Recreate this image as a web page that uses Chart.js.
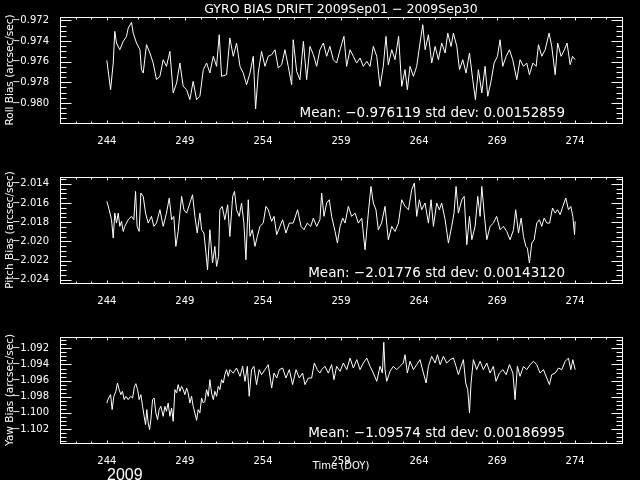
<!DOCTYPE html>
<html>
<head>
<meta charset="utf-8">
<script src="https://cdn.jsdelivr.net/npm/chart.js@4.4.0/dist/chart.umd.min.js"></script>
<style>
  html, body { margin: 0; padding: 0; background: #000; }
  #wrap { position: relative; width: 640px; height: 480px; background: #000; overflow: hidden; }
  canvas { position: absolute; left: 0; }
</style>
</head>
<body>
<div id="wrap">
  <canvas id="roll" width="640" height="160" style="top:0"></canvas>
  <canvas id="pitch" width="640" height="160" style="top:160px"></canvas>
  <canvas id="yaw" width="640" height="160" style="top:320px"></canvas>
</div>
<script>
'use strict';

const chartTitle = 'GYRO BIAS DRIFT 2009Sep01 \u2212 2009Sep30';
const yearLabel = '2009';
const xTitle = 'Time (DOY)';
const xTicks = [244, 249, 254, 259, 264, 269, 274];

const rollTicks = [-0.980, -0.978, -0.976, -0.974, -0.972];
const pitchTicks = [-2.024, -2.022, -2.020, -2.018, -2.016, -2.014];
const yawTicks = [-1.102, -1.100, -1.098, -1.096, -1.094, -1.092];

const rollMean = 'Mean: \u22120.976119 std dev: 0.00152859';
const pitchMean = 'Mean: \u22122.01776 std dev: 0.00143120';
const yawMean = 'Mean: \u22121.09574 std dev: 0.00186995';

const rollDays = [
  244.00, 244.24, 244.41, 244.51, 244.62, 244.83, 245.05, 245.26, 245.37, 245.58,
  245.69, 245.90, 246.12, 246.22, 246.33, 246.54, 246.76, 246.97, 247.18, 247.40,
  247.61, 247.82, 248.04, 248.25, 248.47, 248.68, 248.89, 249.11, 249.32, 249.53,
  249.75, 249.96, 250.18, 250.39, 250.60, 250.82, 251.03, 251.20, 251.35, 251.67,
  251.88, 252.10, 252.31, 252.53, 252.74, 252.95, 253.17, 253.38, 253.53, 253.70,
  253.91, 254.13, 254.34, 254.56, 254.77, 254.98, 255.20, 255.41, 255.62, 255.84,
  255.94, 256.16, 256.37, 256.59, 256.80, 257.01, 257.23, 257.44, 257.65,
  257.87, 258.08, 258.29, 258.51, 258.72, 258.94, 259.19, 259.36, 259.58, 259.79,
  260.00, 260.22, 260.43, 260.65, 260.86, 261.07, 261.29, 261.50, 261.71, 261.88,
  262.03, 262.25, 262.46, 262.69, 262.89, 263.10, 263.25, 263.42, 263.64, 263.85,
  264.06, 264.24, 264.39, 264.60, 264.81, 265.03, 265.24, 265.45, 265.67, 265.84,
  266.05, 266.20, 266.42, 266.59, 266.80, 267.01, 267.23, 267.44, 267.61, 267.80,
  268.02, 268.23, 268.40, 268.59, 268.81, 269.02, 269.19, 269.36, 269.58, 269.79,
  270.00, 270.26, 270.47, 270.69, 270.90, 271.07, 271.29, 271.50, 271.65, 271.86,
  272.08, 272.33, 272.50, 272.72, 272.88, 273.10, 273.31, 273.48, 273.68, 273.83,
  274.00
];
const rollBias = [
  -0.97587, -0.97871, -0.97613, -0.97306, -0.97419, -0.97484, -0.97403, -0.97355, -0.97274, -0.97219,
  -0.97323, -0.97419, -0.97484, -0.97677, -0.97710, -0.97435, -0.97516, -0.97613, -0.97774, -0.97742,
  -0.97581, -0.97645, -0.97500, -0.97903, -0.97806, -0.97613, -0.97839, -0.97871, -0.97968, -0.97790,
  -0.97968, -0.97935, -0.97677, -0.97613, -0.97710, -0.97548, -0.97645, -0.97339, -0.97742, -0.97726,
  -0.97371, -0.97548, -0.97419, -0.97645, -0.97710, -0.97823, -0.97710, -0.97548, -0.98058, -0.97710,
  -0.97500, -0.97645, -0.97548, -0.97532, -0.97484, -0.97661, -0.97629, -0.97484, -0.97645, -0.97823,
  -0.97387, -0.97694, -0.97774, -0.97403, -0.97774, -0.97452, -0.97532, -0.97645, -0.97484,
  -0.97419, -0.97548, -0.97452, -0.97581, -0.97613, -0.97484, -0.97355, -0.97645, -0.97484, -0.97548,
  -0.97613, -0.97565, -0.97645, -0.97597, -0.97645, -0.97452, -0.97548, -0.97839, -0.97645, -0.97355,
  -0.97629, -0.97484, -0.97581, -0.97355, -0.97839, -0.97677, -0.97871, -0.97645, -0.97742, -0.97645,
  -0.97419, -0.97242, -0.97484, -0.97339, -0.97613, -0.97452, -0.97581, -0.97419, -0.97516, -0.97323,
  -0.97452, -0.97323, -0.97452, -0.97677, -0.97581, -0.97710, -0.97516, -0.97774, -0.97968, -0.97677,
  -0.97903, -0.97645, -0.97935, -0.97806, -0.97613, -0.97548, -0.97387, -0.97645, -0.97548, -0.97484,
  -0.97581, -0.97774, -0.97581, -0.97645, -0.97613, -0.97726, -0.97613, -0.97645, -0.97435, -0.97548,
  -0.97484, -0.97323, -0.97452, -0.97726, -0.97419, -0.97548, -0.97484, -0.97419, -0.97629, -0.97548,
  -0.97581
];

const pitchDays = [
  244.00, 244.15, 244.30, 244.41, 244.51, 244.62, 244.73, 244.83, 244.94, 245.05,
  245.15, 245.37, 245.58, 245.73, 245.84, 245.94, 246.07, 246.18, 246.33, 246.48,
  246.65, 246.86, 247.01, 247.18, 247.40, 247.61, 247.82, 248.00, 248.15, 248.29,
  248.42, 248.57, 248.68, 248.79, 248.94, 249.11, 249.32, 249.49, 249.64, 249.79,
  249.96, 250.07, 250.22, 250.35, 250.45, 250.60, 250.77, 250.92, 251.03, 251.16,
  251.24, 251.39, 251.56, 251.74, 251.88, 252.06, 252.18, 252.31, 252.48, 252.63,
  252.78, 252.91, 253.06, 253.17, 253.32, 253.49, 253.64, 253.81, 254.02, 254.19,
  254.34, 254.56, 254.71, 254.88, 255.09, 255.26, 255.47, 255.69, 255.94, 256.22,
  256.44, 256.63, 256.84, 257.06, 257.23, 257.44, 257.65,
  257.76, 257.91, 258.08, 258.25, 258.40, 258.62, 258.77, 258.94, 259.11, 259.26,
  259.47, 259.68, 259.90, 260.11, 260.33, 260.54, 260.75, 260.92, 261.07, 261.24,
  261.39, 261.60, 261.82, 262.03, 262.25, 262.46, 262.68, 262.89, 263.10, 263.32,
  263.53, 263.70, 263.85, 264.02, 264.17, 264.38, 264.60, 264.77, 264.92, 265.13,
  265.30, 265.45, 265.67, 265.88, 266.09, 266.24, 266.37, 266.52, 266.74, 266.89,
  267.06, 267.23, 267.38, 267.59, 267.76, 267.91, 268.02, 268.17, 268.34, 268.55,
  268.76, 268.97, 269.19, 269.40, 269.62, 269.83, 270.05, 270.19, 270.37, 270.54,
  270.69, 270.84, 270.94, 271.07, 271.22, 271.37, 271.54, 271.71, 271.86, 272.01,
  272.19, 272.36, 272.55, 272.72, 272.87, 273.04, 273.21, 273.40, 273.57, 273.72,
  273.85, 273.96, 274.00
];
const pitchBias = [
  -2.01584, -2.01671, -2.01775, -2.01966, -2.01706, -2.01810, -2.01706, -2.01844, -2.01792, -2.01897,
  -2.01844, -2.01775, -2.01740, -2.01775, -2.01480, -2.01844, -2.01897, -2.01497, -2.01532, -2.01706,
  -2.01810, -2.01740, -2.01844, -2.01810, -2.01671, -2.01844, -2.01706, -2.01549, -2.01775, -2.01740,
  -2.02053, -2.01897, -2.01706, -2.01532, -2.01671, -2.01706, -2.01601, -2.01515, -2.01740, -2.01914,
  -2.01706, -2.01879, -2.01914, -2.02122, -2.02296, -2.01879, -2.02226, -2.02053, -2.02261, -2.02157,
  -2.01671, -2.01636, -2.01775, -2.01619, -2.01949, -2.01532, -2.01480, -2.01671, -2.01740, -2.01601,
  -2.01810, -2.02192, -2.01567, -2.01949, -2.01879, -2.02053, -2.01949, -2.01844, -2.01810, -2.01636,
  -2.01671, -2.01792, -2.01740, -2.01931, -2.01844, -2.01775, -2.01914, -2.01810, -2.01810, -2.01671,
  -2.01844, -2.01879, -2.01810, -2.01844, -2.01758, -2.01844, -2.01775,
  -2.01497, -2.01740, -2.01601, -2.01567, -2.01740, -2.01897, -2.02018, -2.01844, -2.01758, -2.01810,
  -2.01636, -2.01740, -2.01706, -2.01810, -2.01758, -2.02088, -2.01706, -2.01428, -2.01601, -2.01671,
  -2.01879, -2.01810, -2.01636, -2.01983, -2.01844, -2.01897, -2.01810, -2.01567, -2.01636, -2.01671,
  -2.01463, -2.01393, -2.01740, -2.01567, -2.01671, -2.01601, -2.01810, -2.01567, -2.01844, -2.01601,
  -2.01671, -2.01601, -2.01775, -2.02018, -2.01844, -2.01706, -2.01428, -2.01706, -2.01567, -2.01532,
  -2.02035, -2.01740, -2.01983, -2.01844, -2.01532, -2.01740, -2.01428, -2.01706, -2.01983, -2.01844,
  -2.01810, -2.01740, -2.01879, -2.01844, -2.01897, -2.01983, -2.01879, -2.01671, -2.01914, -2.01758,
  -2.01949, -2.02053, -2.02070, -2.02226, -2.02018, -2.01983, -2.01810, -2.01775, -2.01844, -2.01758,
  -2.01810, -2.01810, -2.01653, -2.01706, -2.01671, -2.01723, -2.01636, -2.01549, -2.01671, -2.01636,
  -2.01740, -2.01931, -2.01792
];

const yawDays = [
  244.00, 244.11, 244.24, 244.34, 244.45, 244.58, 244.68, 244.79, 244.90, 245.00,
  245.11, 245.22, 245.37, 245.52, 245.65, 245.77, 245.86, 245.97, 246.07, 246.18,
  246.29, 246.39, 246.48, 246.56, 246.65, 246.74, 246.82, 246.93, 247.03, 247.14,
  247.25, 247.35, 247.46, 247.61, 247.72, 247.82, 247.93, 248.04, 248.15, 248.25,
  248.36, 248.47, 248.57, 248.68, 248.79, 248.89, 249.00, 249.11, 249.21, 249.32,
  249.43, 249.53, 249.64, 249.75, 249.85, 249.96, 250.07, 250.18, 250.28, 250.39,
  250.50, 250.60, 250.71, 250.82, 250.92, 251.03, 251.14, 251.24, 251.35, 251.46,
  251.56, 251.67, 251.78, 251.88, 252.10, 252.31, 252.53, 252.70, 252.85, 253.00,
  253.12, 253.27, 253.42, 253.59, 253.76, 253.91, 254.13, 254.34, 254.56, 254.71,
  254.88, 255.05, 255.26, 255.47, 255.69, 255.90, 256.12, 256.33, 256.54, 256.69,
  256.91, 257.12, 257.29, 257.48, 257.65,
  257.76, 257.97, 258.19, 258.40, 258.55, 258.72, 258.94, 259.15, 259.37, 259.58,
  259.79, 260.01, 260.22, 260.43, 260.65, 260.86, 261.07, 261.29, 261.50, 261.65,
  261.74, 261.82, 261.93, 262.14, 262.35, 262.57, 262.78, 262.99, 263.10, 263.25,
  263.42, 263.64, 263.85, 264.06, 264.28, 264.45, 264.60, 264.81, 265.03, 265.18,
  265.35, 265.56, 265.77, 265.99, 266.20, 266.37, 266.52, 266.69, 266.84, 266.99,
  267.12, 267.23, 267.33, 267.48, 267.69, 267.91, 268.12, 268.34, 268.55, 268.76,
  268.93, 269.15, 269.37, 269.58, 269.79, 270.01, 270.15, 270.30, 270.47, 270.69,
  270.90, 271.11, 271.33, 271.54, 271.75, 271.97, 272.18, 272.35, 272.50, 272.72,
  272.93, 273.14, 273.36, 273.57, 273.72, 273.85, 274.00
];
const yawBias = [
  -1.09878, -1.09816, -1.09774, -1.09960, -1.09795, -1.09733, -1.09630, -1.09712, -1.09774, -1.09733,
  -1.09836, -1.09795, -1.09836, -1.09795, -1.09816, -1.09671, -1.09638, -1.09712, -1.09836, -1.09774,
  -1.09919, -1.10043, -1.10146, -1.09960, -1.10126, -1.10208, -1.10084, -1.09836, -1.09816, -1.10002,
  -1.10084, -1.09960, -1.09919, -1.10043, -1.09919, -1.09981, -1.09878, -1.10043, -1.09940, -1.10105,
  -1.09712, -1.09754, -1.09650, -1.09733, -1.09671, -1.09712, -1.09774, -1.09692, -1.09754, -1.09878,
  -1.09795, -1.09919, -1.10002, -1.10093, -1.09960, -1.10002, -1.09816, -1.09878, -1.09857, -1.09712,
  -1.09795, -1.09588, -1.09754, -1.09836, -1.09733, -1.09795, -1.09671, -1.09712, -1.09588, -1.09630,
  -1.09526, -1.09464, -1.09547, -1.09464, -1.09506, -1.09444, -1.09547, -1.09423, -1.09609, -1.09423,
  -1.09795, -1.09464, -1.09423, -1.09650, -1.09464, -1.09526, -1.09464, -1.09402, -1.09692, -1.09506,
  -1.09568, -1.09464, -1.09444, -1.09568, -1.09464, -1.09650, -1.09464, -1.09568, -1.09506, -1.09650,
  -1.09568, -1.09568, -1.09382, -1.09464, -1.09506,
  -1.09464, -1.09423, -1.09506, -1.09402, -1.09588, -1.09423, -1.09485, -1.09382, -1.09464, -1.09320,
  -1.09444, -1.09340, -1.09464, -1.09382, -1.09320, -1.09423, -1.09506, -1.09609, -1.09423, -1.09506,
  -1.09126, -1.09464, -1.09609, -1.09485, -1.09423, -1.09464, -1.09423, -1.09382, -1.09279, -1.09506,
  -1.09361, -1.09464, -1.09402, -1.09340, -1.09506, -1.09630, -1.09423, -1.09299, -1.09382, -1.09279,
  -1.09402, -1.09299, -1.09382, -1.09340, -1.09320, -1.09423, -1.09526, -1.09423, -1.09340, -1.09630,
  -1.09712, -1.10002, -1.09630, -1.09340, -1.09464, -1.09361, -1.09464, -1.09382, -1.09506, -1.09423,
  -1.09609, -1.09506, -1.09464, -1.09526, -1.09402, -1.09506, -1.09836, -1.09423, -1.09547, -1.09423,
  -1.09464, -1.09402, -1.09361, -1.09402, -1.09506, -1.09464, -1.09568, -1.09650, -1.09526, -1.09506,
  -1.09444, -1.09464, -1.09361, -1.09320, -1.09464, -1.09340, -1.09464
];

const FONT = '"DejaVu Sans", sans-serif';

// IDL style box with inward ticks, plus the free text
const idlBox = {
  id: 'idlBox',
  afterDraw(chart, args, opts) {
    const { ctx, chartArea: a, scales } = chart;
    const x = scales.x;
    const y = scales.y;
    const L = Math.round(a.left) + 0.5;
    const R = Math.round(a.right) + 0.5;
    const T = Math.round(a.top) + 0.5;
    const B = Math.round(a.bottom) + 0.5;
    ctx.save();
    ctx.strokeStyle = '#fff';
    ctx.lineWidth = 1;
    ctx.strokeRect(L, T, R - L, B - T);
    ctx.beginPath();
    for (let d = Math.ceil(x.min); d <= x.max; d++) {
      const px = Math.round(x.getPixelForValue(d)) + 0.5;
      const len = xTicks.includes(d) ? 3 : 2;
      ctx.moveTo(px, B); ctx.lineTo(px, B - len);
      ctx.moveTo(px, T); ctx.lineTo(px, T + len);
    }
    const step = opts.ticks[1] - opts.ticks[0];
    const minor = step / 4;
    const start = opts.ticks[0] - Math.floor((opts.ticks[0] - y.min) / minor) * minor;
    for (let v = start; v <= y.max + 1e-9; v += minor) {
      const py = Math.round(y.getPixelForValue(v)) + 0.5;
      const k = Math.round((v - opts.ticks[0]) / minor);
      const len = k % 4 === 0 ? 11 : 6;
      ctx.moveTo(L, py); ctx.lineTo(L + len, py);
      ctx.moveTo(R, py); ctx.lineTo(R - len, py);
    }
    ctx.stroke();

    ctx.fillStyle = '#fff';
    ctx.font = '13.5px ' + FONT;
    ctx.textAlign = 'right';
    ctx.textBaseline = 'alphabetic';
    ctx.fillText(opts.mean, a.right - 57, a.bottom - 6);

    if (opts.title) {
      ctx.font = '12.5px ' + FONT;
      ctx.textAlign = 'center';
      ctx.fillText(opts.title, (a.left + a.right) / 2, 13);
    }
    if (opts.year) {
      ctx.font = '16px "Liberation Sans", sans-serif';
      ctx.textAlign = 'left';
      ctx.fillText(opts.year, 107, 159.5);
    }
    ctx.restore();
  }
};

const fmt = v => '\u2212' + Math.abs(v).toFixed(3);

function makePanel(id, days, values, yMin, yMax, ticks, yLabel, mean, extra) {
  const points = days.map((d, i) => ({ x: d, y: values[i] }));
  return new Chart(document.getElementById(id), {
    type: 'line',
    data: {
      datasets: [{
        data: points,
        borderColor: '#fff',
        borderWidth: 1,
        pointRadius: 0,
        tension: 0,
        fill: false
      }]
    },
    options: {
      responsive: false,
      animation: false,
      devicePixelRatio: 1,
      layout: { padding: { top: 17, right: 18, bottom: 0, left: 0 } },
      plugins: {
        legend: { display: false },
        tooltip: { enabled: false },
        idlBox: Object.assign({ ticks: ticks, mean: mean }, extra)
      },
      scales: {
        x: {
          type: 'linear',
          min: 241,
          max: 277,
          grid: { display: false },
          border: { display: false },
          afterBuildTicks: s => { s.ticks = xTicks.map(v => ({ value: v })); },
          afterFit: s => { s.height = 37; },
          ticks: {
            color: '#fff',
            padding: 4,
            maxRotation: 0,
            autoSkip: false,
            font: { family: FONT, size: 10 },
            callback: v => String(v)
          },
          title: {
            display: !!extra.xTitle,
            text: extra.xTitle || '',
            color: '#fff',
            font: { family: FONT, size: 10 },
            padding: { top: 0, bottom: 8 }
          }
        },
        y: {
          min: yMin,
          max: yMax,
          grid: { display: false },
          border: { display: false },
          afterBuildTicks: s => { s.ticks = ticks.map(v => ({ value: v })); },
          afterFit: s => { s.width = 60; },
          ticks: {
            color: '#fff',
            padding: 3,
            font: { family: FONT, size: 10 },
            callback: v => fmt(v)
          },
          title: {
            display: true,
            text: yLabel,
            color: '#fff',
            font: { family: FONT, size: 10.5 },
            padding: { top: 4, bottom: 4 }
          }
        }
      }
    },
    plugins: [idlBox]
  });
}

makePanel('roll', rollDays, rollBias, -0.98194, -0.97167, rollTicks,
  'Roll Bias (arcsec/sec)', rollMean, { title: chartTitle });
makePanel('pitch', pitchDays, pitchBias, -2.02434, -2.0133, pitchTicks,
  'Pitch Bias (arcsec/sec)', pitchMean, {});
makePanel('yaw', yawDays, yawBias, -1.10374, -1.09059, yawTicks,
  'Yaw Bias (arcsec/sec)', yawMean, { xTitle: xTitle, year: yearLabel });
</script>
</body>
</html>
